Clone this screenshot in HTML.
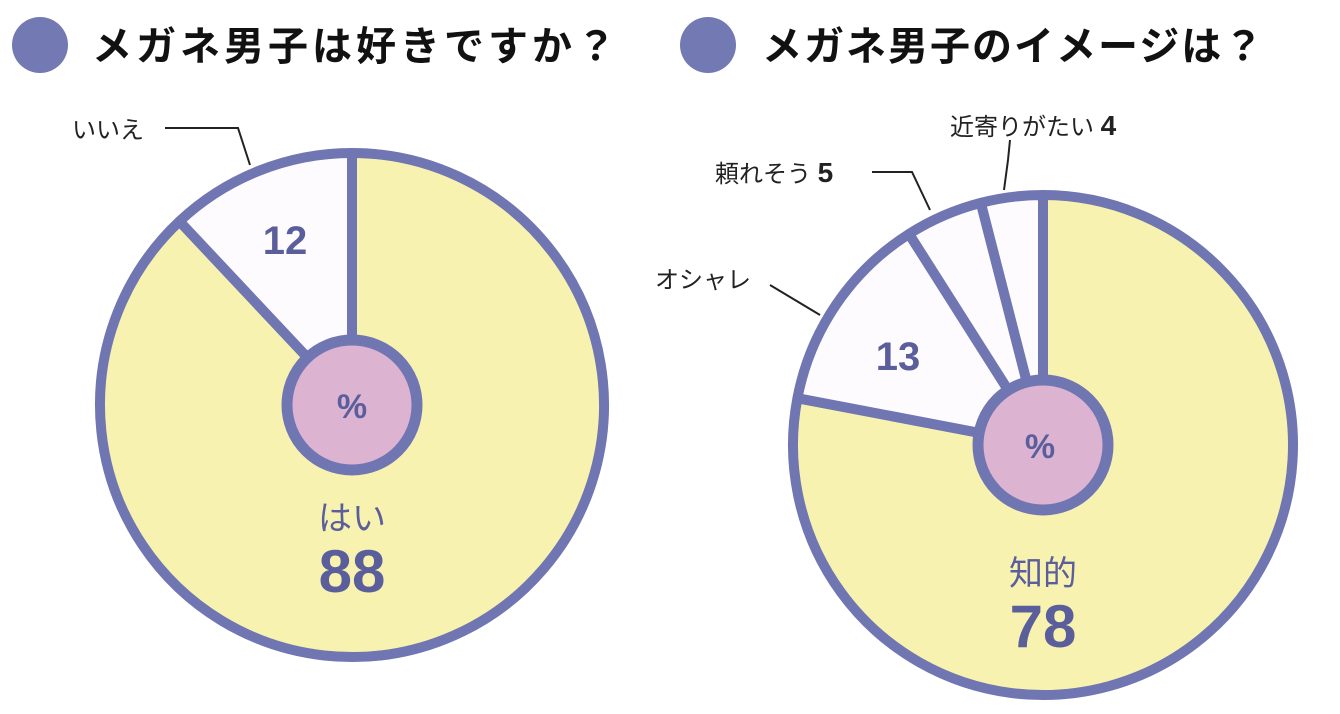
<!DOCTYPE html>
<html><head><meta charset="utf-8">
<style>
html,body{margin:0;padding:0;background:#fff;}
svg{display:block;font-family:"Liberation Sans","Noto Sans CJK JP",sans-serif;}
</style></head>
<body>
<svg id="chart" width="1340" height="714" viewBox="0 0 1340 714">
  <circle cx="40" cy="45" r="28" fill="#7379b3"/>
  <text x="92" y="60" font-size="40" font-weight="bold" fill="#111" letter-spacing="4">メガネ男子は好きですか？</text>
  <circle cx="708" cy="45" r="28" fill="#7379b3"/>
  <text x="762" y="60" font-size="40" font-weight="bold" fill="#111" letter-spacing="2">メガネ男子のイメージは？</text>
  <g id="pies"></g>
  <g fill="none" stroke="#222" stroke-width="2">
    <polyline points="165,128 238,128 250,165"/>
    <polyline points="1004,190 1008,160 1010,140"/>
    <polyline points="872,172 912,172 930,210"/>
    <polyline points="770,285 820,315"/>
  </g>
  <g font-size="24" fill="#222">
    <text x="72" y="138">いいえ</text>
    <text x="950" y="135">近寄りがたい <tspan font-weight="bold" font-size="28">4</tspan></text>
    <text x="715" y="182">頼れそう <tspan font-weight="bold" font-size="28">5</tspan></text>
    <text x="655" y="288">オシャレ</text>
  </g>
  <g fill="#5a5f9c" font-weight="bold" text-anchor="middle">
    <text x="285" y="254" font-size="40">12</text>
    <text x="352" y="418" font-size="34">%</text>
    <text x="352" y="530" font-size="34" font-weight="normal">はい</text>
    <text x="352" y="592" font-size="60">88</text>
    <text x="898" y="370" font-size="40">13</text>
    <text x="1040" y="458" font-size="34">%</text>
    <text x="1043" y="585" font-size="34" font-weight="normal">知的</text>
    <text x="1043" y="647" font-size="60">78</text>
  </g>
</svg>
<script>
const leftCategories = ["はい","いいえ"];
const leftValues = [88, 12];
const rightCategories = ["知的","オシャレ","頼れそう","近寄りがたい"];
const rightValues = [78, 13, 5, 4];

const NS = "http://www.w3.org/2000/svg";
const STROKE = "#7076b1";
const fills = ["#f8f2b0","#fdfbfd","#fdfbfd","#fdfbfd"];
function drawPie(cx, cy, r, values, cats, key){
  const g = document.getElementById('pies');
  const total = values.reduce((a,b)=>a+b,0);
  let acc = 0;
  values.forEach((v,i)=>{
    const a0 = acc/total*2*Math.PI; acc += v;
    const a1 = acc/total*2*Math.PI;
    const x0 = cx + r*Math.sin(a0), y0 = cy - r*Math.cos(a0);
    const x1 = cx + r*Math.sin(a1), y1 = cy - r*Math.cos(a1);
    const large = (a1-a0) > Math.PI ? 1 : 0;
    const p = document.createElementNS(NS,'path');
    p.setAttribute('d',`M${cx},${cy} L${x0},${y0} A${r},${r} 0 ${large} 1 ${x1},${y1} Z`);
    p.setAttribute('fill', fills[i]);
    p.setAttribute('stroke', STROKE);
    p.setAttribute('stroke-width', '10');
    p.setAttribute('stroke-linejoin','round');
    
    
    g.appendChild(p);
  });
  const c = document.createElementNS(NS,'circle');
  c.setAttribute('cx',cx); c.setAttribute('cy',cy); c.setAttribute('r',65);
  c.setAttribute('fill','#dcb4d2'); c.setAttribute('stroke',STROKE); c.setAttribute('stroke-width','11');
  
  
  g.appendChild(c);
}
drawPie(352, 405, 252, leftValues, leftCategories, 'left-pie');
drawPie(1043, 445, 250, rightValues, rightCategories, 'right-pie');
</script>
</body></html>
